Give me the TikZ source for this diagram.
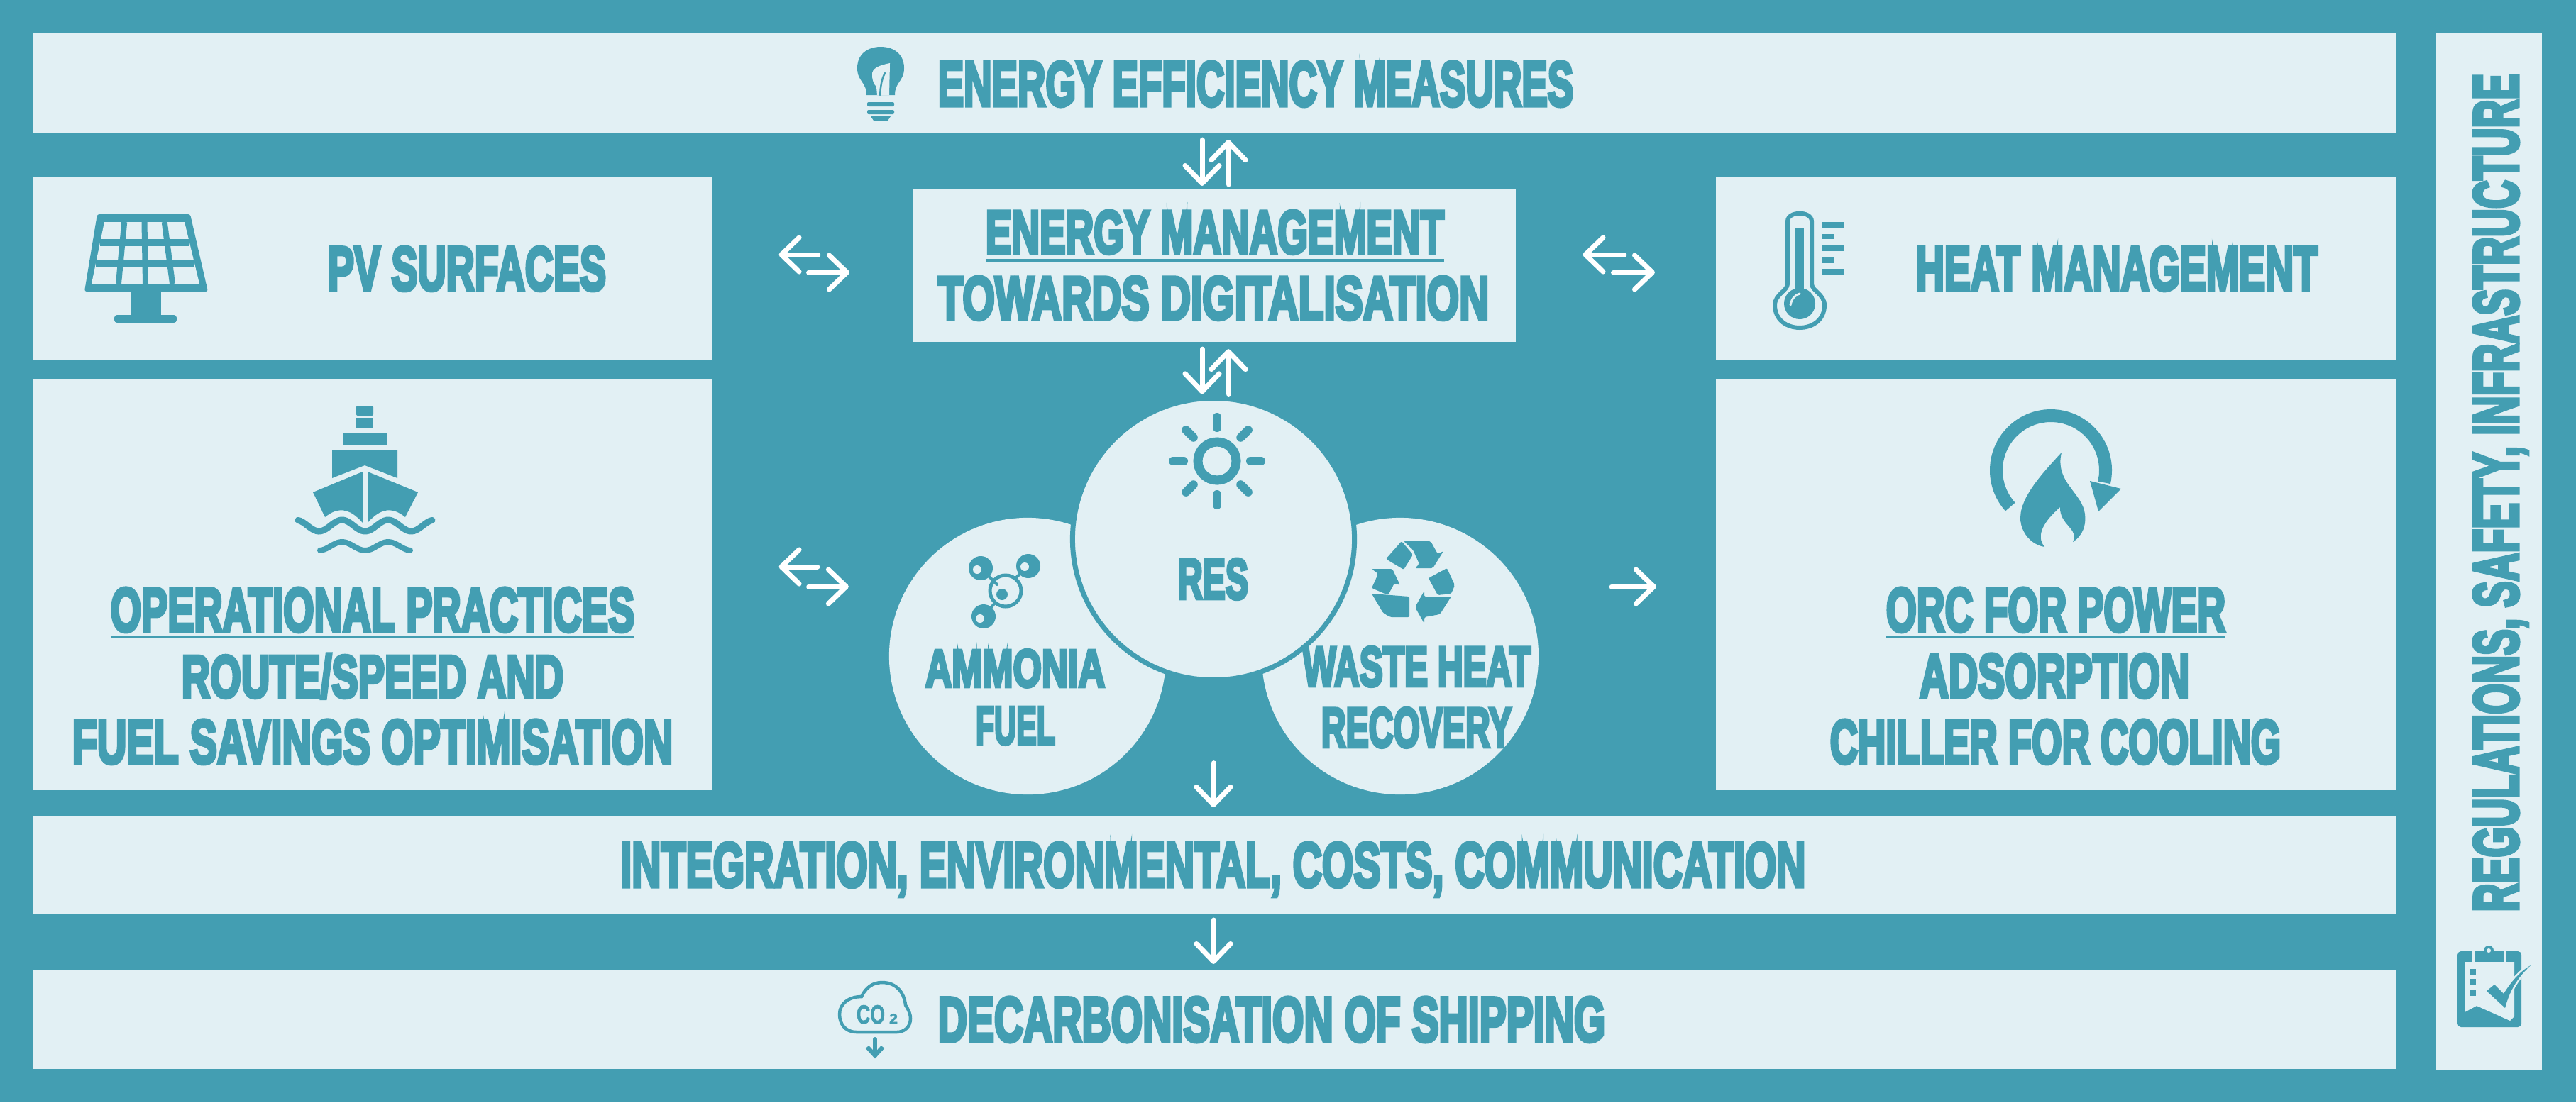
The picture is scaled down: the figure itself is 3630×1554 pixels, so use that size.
\documentclass[tikz,border=0pt]{standalone}
\usepackage{fontspec}
\usepackage{graphicx}
\usepackage{xcolor}
\usetikzlibrary{arrows.meta,calc}
\newfontfamily\impactfont[FakeBold=6]{Liberation Sans Bold}
\newfontfamily\iconfont[FakeBold=2]{Liberation Sans Bold}
\definecolor{deepteal}{HTML}{439EB2}
\definecolor{paleteal}{HTML}{E2F0F4}
\newcommand{\stencil}[3]{\resizebox{#1cm}{#2cm}{\impactfont #3}}
\tikzset{
	panel/.style={fill=paleteal, inner sep=0, outer sep=0, anchor=north west},
	disc/.style={circle, fill=paleteal, inner sep=0, outer sep=0, minimum size=3.9cm},
	stencilled/.style={text=deepteal, inner sep=0, outer sep=0, anchor=base},
	flow/.style={draw=white, line width=0.07cm, line cap=round, -{Straight Barb[length=0.25cm,width=0.48cm,round]}},
	iconfill/.style={fill=deepteal},
	iconline/.style={draw=deepteal, line cap=round},
	underbar/.style={draw=deepteal, line width=0.04cm}
}
\begin{document}
\begin{tikzpicture}[x=0.01cm, y=-0.01cm]
	\useasboundingbox (0,0) rectangle (3630,1554);
	\fill[deepteal] (0,0) rectangle (3630,1554);

	% panels
	\node[panel, minimum width=33.28cm, minimum height=1.40cm] (efficiency) at (47,47) {};
	\node[panel, minimum width=8.49cm, minimum height=2.16cm] (management) at (1286,266) {};
	\node[panel, minimum width=9.55cm, minimum height=2.57cm] (pv) at (47,250) {};
	\node[panel, minimum width=9.55cm, minimum height=5.79cm] (practices) at (47,535) {};
	\node[panel, minimum width=9.57cm, minimum height=2.57cm] (heat) at (2418,250) {};
	\node[panel, minimum width=9.57cm, minimum height=5.79cm] (orc) at (2418,535) {};
	\node[panel, minimum width=33.28cm, minimum height=1.38cm] (integration) at (47,1150) {};
	\node[panel, minimum width=33.28cm, minimum height=1.40cm] (decarb) at (47,1367) {};
	\node[panel, minimum width=1.49cm, minimum height=14.60cm] (regulations) at (3433,47) {};

	% circles
	\node[disc] (ammonia) at (1448,925) {};
	\node[disc] (waste) at (1973,925) {};
	\node[disc, draw=deepteal, line width=0.07cm, minimum size=3.97cm] (res) at (1710,760) {};

	% texts
	\node[stencilled] (efficiencytext) at (1769.5,149) {\stencil{8.95}{0.62}{ENERGY EFFICIENCY MEASURES}};
	\node[stencilled] (emone) at (1712,357) {\stencil{6.46}{0.60}{ENERGY MANAGEMENT}};
	\node[stencilled] (emtwo) at (1710,450) {\stencil{7.76}{0.60}{TOWARDS DIGITALISATION}};
	\node[stencilled] (pvtext) at (658,409) {\stencil{3.92}{0.61}{PV SURFACES}};
	\node[stencilled] (opone) at (525,890) {\stencil{7.38}{0.61}{OPERATIONAL PRACTICES}};
	\node[stencilled] (optwo) at (525,983) {\stencil{5.38}{0.61}{ROUTE/SPEED AND}};
	\node[stencilled] (opthree) at (525,1076) {\stencil{8.46}{0.61}{FUEL SAVINGS OPTIMISATION}};
	\node[stencilled] (heattext) at (2983,409) {\stencil{5.66}{0.61}{HEAT MANAGEMENT}};
	\node[stencilled] (orcone) at (2897,890) {\stencil{4.78}{0.61}{ORC FOR POWER}};
	\node[stencilled] (orctwo) at (2895,983) {\stencil{3.80}{0.61}{ADSORPTION}};
	\node[stencilled] (orcthree) at (2896.5,1076) {\stencil{6.35}{0.61}{CHILLER FOR COOLING}};
	\node[stencilled] (restext) at (1709.5,844) {\stencil{0.99}{0.56}{RES}};
	\node[stencilled] (ammoniaone) at (1430.5,968) {\stencil{2.53}{0.52}{AMMONIA}};
	\node[stencilled] (ammoniatwo) at (1431,1049) {\stencil{1.12}{0.52}{FUEL}};
	\node[stencilled] (wasteone) at (1996.5,967) {\stencil{3.21}{0.55}{WASTE HEAT}};
	\node[stencilled] (wastetwo) at (1996,1053) {\stencil{2.68}{0.55}{RECOVERY}};
	\node[stencilled] (integrationtext) at (1709.5,1250) {\stencil{16.69}{0.62}{INTEGRATION, ENVIRONMENTAL, COSTS, COMMUNICATION}};
	\node[stencilled] (decarbtext) at (1792,1468) {\stencil{9.40}{0.62}{DECARBONISATION OF SHIPPING}};
	\node[stencilled, rotate=90] (regulationstext) at (3548,694.5) {\stencil{11.81}{0.62}{REGULATIONS, SAFETY, INFRASTRUCTURE}};
	\draw[underbar] ([yshift=-0.09cm]emone.south west) -- ([yshift=-0.09cm]emone.south east);
	\draw[underbar, line width=0.03cm] ([yshift=-0.08cm]opone.south west) -- ([yshift=-0.08cm]opone.south east);
	\draw[underbar, line width=0.03cm] ([yshift=-0.08cm]orcone.south west) -- ([yshift=-0.08cm]orcone.south east);

	% arrows
	\coordinate (colup) at (1731,0);
	\coordinate (coldown) at (1694,0);
	\coordinate (colmid) at (1710,0);
	\coordinate (rowa) at (0,359);
	\coordinate (rowb) at (0,384);
	\coordinate (rowc) at (0,799);
	\coordinate (rowd) at (0,827);
	\draw[flow, shorten <=0.06cm, shorten >=0.10cm] (colup |- management.north) -- (colup |- efficiency.south);
	\draw[flow, shorten <=0.10cm, shorten >=0.04cm] (coldown |- efficiency.south) -- (coldown |- management.north);
	\draw[flow, shorten <=0.06cm, shorten >=0.10cm] (colup |- res.north) -- (colup |- management.south);
	\draw[flow, shorten <=0.10cm, shorten >=0.06cm] (coldown |- management.south) -- (coldown |- res.north);
	\draw[flow, shorten <=1.33cm, shorten >=0.95cm] (management.west |- rowa) -- (pv.east |- rowa);
	\draw[flow, shorten <=1.37cm, shorten >=0.89cm] (pv.east |- rowb) -- (management.west |- rowb);
	\draw[flow, shorten <=1.29cm, shorten >=0.95cm] (heat.west |- rowa) -- (management.east |- rowa);
	\draw[flow, shorten <=1.38cm, shorten >=0.86cm] (management.east |- rowb) -- (heat.west |- rowb);
	\draw[flow, shorten <=1.01cm, shorten >=0.95cm] (ammonia.west |- rowc) -- (practices.east |- rowc);
	\draw[flow, shorten <=1.37cm, shorten >=0.57cm] (practices.east |- rowd) -- (ammonia.west |- rowd);
	\draw[flow, shorten <=1.03cm, shorten >=0.84cm] (waste.east |- rowd) -- (orc.west |- rowd);
	\draw[flow, shorten <=1.17cm, shorten >=0.12cm] (colmid |- res.south) -- (colmid |- integration.north);
	\draw[flow, shorten <=0.09cm, shorten >=0.08cm] (colmid |- integration.south) -- (colmid |- decarb.north);

	% bulb
	\begin{scope}[shift={(1241,100)}]
		\fill[iconfill] (-20,34) .. controls (-20,15) and (-33,15) .. (-33,-4) .. controls (-33,-24) and (-18,-34) .. (0,-34) .. controls (18,-34) and (33,-24) .. (33,-4) .. controls (33,15) and (20,15) .. (20,34) -- cycle;
		\fill[paleteal] (13,-11) .. controls (-2,-8) and (-13,-4) .. (-12,6) .. controls (-12,14) and (-9,20) .. (-6,22) -- (-5,34) -- (12,34) -- cycle;
		\draw[iconline, line width=0.025cm] (6,3) .. controls (1,12) and (0,22) .. (-1,34);
		\fill[iconfill, rounded corners=0.02cm] (-19,44) rectangle (19,50);
		\fill[iconfill, rounded corners=0.02cm] (-19,55) rectangle (19,61);
		\fill[iconfill] (-14,64) -- (14,64) -- (10,70) -- (-10,70) -- cycle;
	\end{scope}

	% solar panel
	\fill[iconfill, rounded corners=0.03cm] (137,302) -- (268,302) -- (293,411) -- (119,411) -- cycle;
	\coordinate (celltl) at (147,313);
	\coordinate (celltr) at (260,313);
	\coordinate (cellbl) at (129,400);
	\coordinate (cellbr) at (281,400);
	\fill[paleteal] (celltl) -- (celltr) -- (cellbr) -- (cellbl) -- cycle;
	\foreach \u in {0.25,0.5,0.75}
		\draw[draw=deepteal, line width=0.08cm] ($(celltl)!\u!(celltr)$) -- ($(cellbl)!\u!(cellbr)$);
	\foreach \v in {0.333,0.667}
		\draw[draw=deepteal, line width=0.10cm] ($(celltl)!\v!(cellbl)$) -- ($(celltr)!\v!(cellbr)$);
	\fill[iconfill] (184,411) rectangle (227,446);
	\fill[iconfill, rounded corners=0.04cm] (161,444) rectangle (249,455);

	% ship
	\fill[iconfill, rounded corners=0.02cm] (502,572) rectangle (526,586);
	\fill[iconfill] (502,589) rectangle (526,604);
	\fill[iconfill] (483,610) rectangle (545,627);
	\fill[iconfill] (468,635) -- (560,635) -- (560,674) -- (514,656) -- (468,674) -- cycle;
	\fill[iconfill] (511,665) -- (441,694) -- (458,729) .. controls (475,715) and (492,715) .. (511,737) -- cycle;
	\fill[iconfill] (518,665) -- (589,694) -- (571,729) .. controls (554,715) and (537,715) .. (518,737) -- cycle;
	\draw[iconline, line width=0.09cm] plot[domain=420:609, samples=60] (\x, {741-8*cos((\x-417)*5.538)});
	\draw[iconline, line width=0.08cm] plot[domain=451:578, samples=40] (\x, {770-6*cos((\x-482)*5.538)});

	% thermometer
	\draw[iconline, line width=0.06cm] (2519,400) -- (2519,312) .. controls (2519,297) and (2553,297) .. (2553,312) -- (2553,400) .. controls (2553,410) and (2571,415) .. (2571,430) .. controls (2571,452) and (2553,462) .. (2536,462) .. controls (2519,462) and (2501,452) .. (2501,430) .. controls (2501,415) and (2519,410) .. (2519,400);
	\fill[iconfill] (2530,322) rectangle (2542,412);
	\fill[iconfill] (2536,428) circle (22);
	\draw[draw=paleteal, line width=0.03cm, line cap=round] (2523,430) .. controls (2525,420) and (2530,416) .. (2536,414);
	\foreach \ya/\yb/\xe in {313/322/2599, 330/337/2585, 346/354/2599, 363/371/2585, 379/387/2599}
		\fill[iconfill] (2568,\ya) rectangle (\xe,\yb);

	% flame and circular arrow
	\draw[draw=deepteal, line width=0.18cm] (2890,663) ++(138:77) arc[start angle=138, end angle=373, radius=77];
	\fill[iconfill] (2945,678) -- (2989,689) -- (2957,721) -- cycle;
	\fill[iconfill] (2905,638) .. controls (2880,665) and (2847,700) .. (2847,730) .. controls (2847,750) and (2862,768) .. (2881,771) .. controls (2868,755) and (2880,735) .. (2903,715) .. controls (2902,740) and (2930,745) .. (2921,764) .. controls (2935,755) and (2940,740) .. (2938,725) .. controls (2935,695) and (2895,680) .. cycle;

	% sun
	\draw[iconline, line width=0.13cm] (1715,650) circle (27);
	\foreach \a in {0,45,...,315}
		\draw[iconline, line width=0.12cm] (1715,650) ++(\a:47) -- ++(\a:15);

	% molecule
	\draw[iconline, line width=0.05cm] (1417,833) circle (22);
	\fill[iconfill] (1412,838) circle (8);
	\draw[iconline, line width=0.04cm] (1382,801) -- (1405,824) (1449,798) -- (1431,815) (1386,869) -- (1402,850);
	\foreach \cx/\cy/\hx/\hy in {1382/801/1377/803, 1449/798/1444/799, 1386/869/1381/872} {
		\fill[iconfill] (\cx,\cy) circle (17);
		\fill[paleteal] (\hx,\hy) circle (6);
	}

	% recycling
	\begin{scope}[iconfill, rounded corners=0.02cm]
		\fill (1953,788) -- (1975,763) -- (1991,782) -- (1978,803) -- cycle;
		\fill (1978,763) -- (2016,763) -- (2026,781) -- (2034,777) -- (2019,801) -- (1994,801) -- (2000,795) -- (1991,775) -- cycle;
		\fill (1933,802) -- (1962,802) -- (1973,825) -- (1965,822) -- (1956,839) -- (1933,829) -- (1942,809) -- cycle;
		\fill (1933,837) -- (1986,841) -- (1986,870) -- (1959,870) -- (1949,864) -- cycle;
		\fill (2039,801) -- (2050,825) -- (2045,837) -- (2026,839) -- (2013,815) -- cycle;
		\fill (2045,841) -- (2029,866) -- (2007,870) -- (2007,879) -- (1994,856) -- (2007,833) -- (2007,841) -- cycle;
	\end{scope}

	% clipboard
	\fill[iconfill, rounded corners=0.05cm] (3463,1341) rectangle (3553,1448);
	\fill[paleteal] (3473,1427) -- (3473,1356) -- (3543,1356) -- (3543,1433) -- (3537,1439) -- (3490,1418) -- cycle;
	\fill[paleteal] (3483,1339) rectangle (3532,1356);
	\fill[iconfill] (3487,1341) rectangle (3528,1356);
	\fill[iconfill] (3507,1340) circle (7);
	\fill[paleteal] (3507,1340) circle (3);
	\foreach \ya/\yb in {1366/1375, 1380/1389, 1395/1404}
		\fill[iconfill] (3480,\ya) rectangle (3489,\yb);
	\filldraw[fill=deepteal, draw=paleteal, line width=0.05cm, line join=round] (3504,1397) -- (3515,1388) -- (3528,1401) .. controls (3538,1385) and (3550,1370) .. (3566,1361) .. controls (3548,1378) and (3537,1395) .. (3530,1421) -- cycle;
	\fill[iconfill] (3504,1397) -- (3515,1388) -- (3528,1401) .. controls (3538,1385) and (3550,1370) .. (3566,1361) .. controls (3548,1378) and (3537,1395) .. (3530,1421) -- cycle;

	% cloud
	\draw[iconline, line width=0.045cm] (1207,1455) .. controls (1190,1455) and (1183,1442) .. (1183,1430) .. controls (1183,1415) and (1196,1405) .. (1214,1405) .. controls (1220,1392) and (1230,1385) .. (1243,1385) .. controls (1262,1385) and (1274,1398) .. (1276,1417) .. controls (1281,1425) and (1283,1430) .. (1283,1436) .. controls (1283,1448) and (1274,1455) .. (1264,1455) -- cycle;
	\node[stencilled] (cotext) at (1227,1443) {\resizebox{0.40cm}{0.26cm}{\iconfont CO}};
	\node[stencilled] (cosub) at (1259,1443) {\resizebox{0.12cm}{0.14cm}{\iconfont 2}};
	\draw[iconline, line width=0.06cm] (1233,1465) -- (1233,1488);
	\draw[iconline, line width=0.06cm, line cap=butt] (1222,1476) -- (1233,1488) -- (1244,1476);
\end{tikzpicture}
\end{document}
